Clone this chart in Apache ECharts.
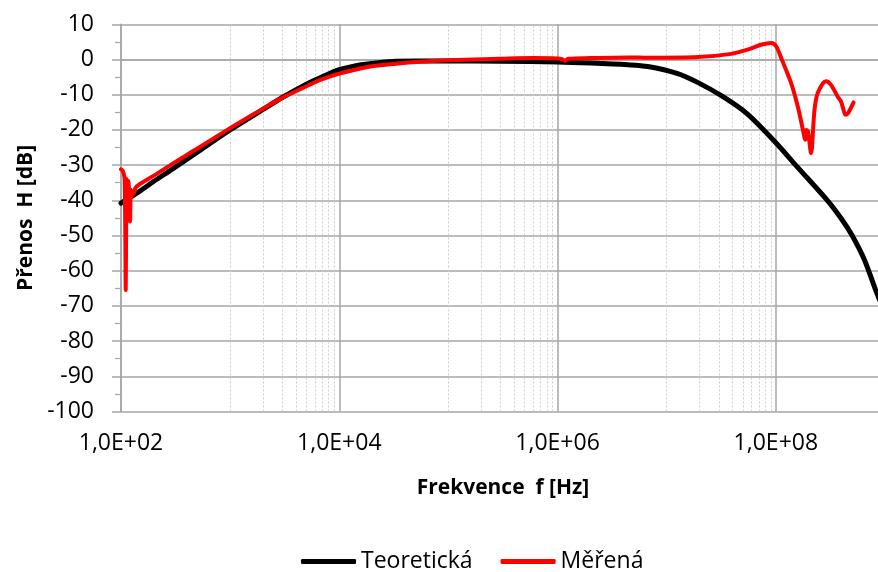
<!DOCTYPE html>
<html>
<head>
<meta charset="utf-8">
<script src="https://cdn.jsdelivr.net/npm/echarts@6/dist/echarts.min.js"></script>
<style>
  html, body { margin: 0; padding: 0; background: #ffffff; overflow: hidden; }
  /* the plot runs up to 1 GHz, slightly past the right edge of the window */
  #chart { width: 888px; height: 572px; }
</style>
</head>
<body>
<div id="chart"></div>
<script>
// Theoretical transfer function (frequency in Hz, gain in dB)
const freqTheory = [100, 150, 200, 300, 500, 1000, 2000, 3000, 5000, 7000, 10000, 15000, 20000, 33000,
  50000, 1e5, 3e5, 1e6, 2e6, 4.4e6, 6.7e6, 1.26e7, 1.92e7, 3.25e7, 5.5e7, 9.9e7, 1.57e8,
  2.96e8, 4e8, 5e8, 6.5e8, 8.1e8, 1e9];
const gainTheory = [-40.8, -37.3, -34.6, -31.0, -26.3, -20.0, -14.2, -10.8, -7.0, -4.9, -2.9, -1.6, -1.1, -0.5,
  -0.45, -0.45, -0.5, -0.7, -1.0, -1.5, -2.0, -4.0, -6.5, -10.5, -15.5, -23.5, -30.5,
  -40.0, -45.3, -50.0, -57.0, -65.0, -72.0];

// Measured transfer function
const freqMeasured = [100, 103, 106, 108, 109.5, 110.5, 111.5, 113, 115, 117, 119, 121, 123, 125, 127, 130, 135,
  150, 200, 300, 500, 1000, 2000, 3000, 5000, 7000, 10000, 16300, 20000, 33000, 50000, 1e5, 3e5, 6e5,
  1e6, 1.1e6, 1.17e6, 1.25e6, 2e6, 4.4e6, 6.8e6, 1.94e7, 3.9e7, 5.5e7, 7.3e7, 9.1e7, 1.01e8, 1.12e8,
  1.38e8, 1.59e8, 1.77e8, 1.86e8, 1.9e8, 1.97e8, 2.1e8, 2.26e8, 2.42e8, 2.88e8, 3.2e8, 3.68e8, 3.95e8,
  4.38e8, 4.6e8, 5.15e8];
const gainMeasured = [-31.2, -31.5, -32.5, -34.0, -50.0, -65.5, -48.0, -34.0, -36.5, -34.5, -40.0, -46.0, -37.0, -39.0, -37.5, -38.2, -36.6,
  -35.3, -33.0, -29.5, -25.3, -19.5, -14.0, -10.9, -7.6, -5.6, -4.0, -2.4, -1.9, -1.2, -0.7, -0.2, 0.2, 0.4,
  0.3, 0.1, -0.4, 0.2, 0.4, 0.6, 0.5, 0.7, 1.6, 2.8, 4.2, 4.7, 3.7, 0.4,
  -6.7, -13.4, -20.0, -22.8, -20.0, -20.5, -26.6, -14.3, -9.5, -6.2, -7.2, -10.5, -11.9,
  -15.7, -15.2, -12.2];

// Axis tick labels (major ticks every two decades)
const xTickLabels = ['1,0E+02', '1,0E+04', '1,0E+06', '1,0E+08'];
const seriesNames = ['Teoretická', 'Měřená'];

const zip = (xs, ys) => xs.map((x, i) => [x, ys[i]]);

// Dotted minor grid lines inside the odd decades
const minorGrid = [];
[3, 5, 7].forEach(function (e) {
  for (let k = 1; k <= 9; k++) minorGrid.push({ xAxis: k * Math.pow(10, e) });
});

const font = "'Open Sans', 'Noto Sans', sans-serif";
const gridColor = '#a6a6a6';

const chart = echarts.init(document.getElementById('chart'), null, { renderer: 'canvas' });
chart.setOption({
  animation: false,
  backgroundColor: '#ffffff',
  grid: { left: 121, right: 0, top: 24.3, bottom: 160.5, containLabel: false },
  legend: {
    data: seriesNames,
    left: 296,
    top: 545,
    itemWidth: 55,
    itemHeight: 5,
    itemGap: 28,
    icon: 'roundRect',
    textStyle: { fontFamily: font, fontSize: 23, color: '#000000' }
  },
  xAxis: {
    type: 'log',
    logBase: 100,
    min: 100,
    max: 1e9,
    name: 'Frekvence  f [Hz]',
    nameLocation: 'middle',
    nameGap: 66,
    nameTextStyle: { fontFamily: font, fontSize: 21, fontWeight: 'bold', color: '#000000' },
    axisLine: { show: true, lineStyle: { color: gridColor, width: 1.5 } },
    axisTick: { show: false },
    axisLabel: {
      margin: 20,
      fontFamily: font, fontSize: 23, color: '#000000',
      formatter: function (v, i) { return xTickLabels[i] || ''; }
    },
    splitLine: { show: true, lineStyle: { color: gridColor, width: 1.5 } },
    minorTick: { show: false },
    minorSplitLine: { show: false }
  },
  yAxis: {
    type: 'value',
    min: -100,
    max: 10,
    interval: 10,
    name: 'Přenos  H [dB]',
    nameLocation: 'middle',
    nameRotate: 90,
    nameGap: 84,
    nameTextStyle: { fontFamily: font, fontSize: 21, fontWeight: 'bold', color: '#000000' },
    axisLine: { show: true, lineStyle: { color: gridColor, width: 1.5 } },
    axisTick: { show: true, inside: false, length: 9, lineStyle: { color: gridColor, width: 1.5 } },
    minorTick: { show: true, splitNumber: 2, length: 6, lineStyle: { color: gridColor, width: 1.2 } },
    axisLabel: { margin: 27, fontFamily: font, fontSize: 23, color: '#000000' },
    splitLine: { show: true, lineStyle: { color: gridColor, width: 1.5 } }
  },
  series: [
    {
      name: seriesNames[0],
      type: 'line',
      data: zip(freqTheory, gainTheory),
      showSymbol: false,
      smooth: 0.3,
      color: '#000000',
      lineStyle: { color: '#000000', width: 5, cap: 'round', join: 'round' },
      markLine: {
        silent: true,
        symbol: ['none', 'none'],
        label: { show: false },
        lineStyle: { color: '#cfcfcf', width: 1, type: [2, 2] },
        data: minorGrid,
        z: 1
      },
      z: 3
    },
    {
      name: seriesNames[1],
      type: 'line',
      data: zip(freqMeasured, gainMeasured),
      showSymbol: false,
      smooth: 0.3,
      color: '#ff0000',
      lineStyle: { color: '#ff0000', width: 4, cap: 'round', join: 'round' },
      z: 4
    }
  ]
});
</script>
</body>
</html>
